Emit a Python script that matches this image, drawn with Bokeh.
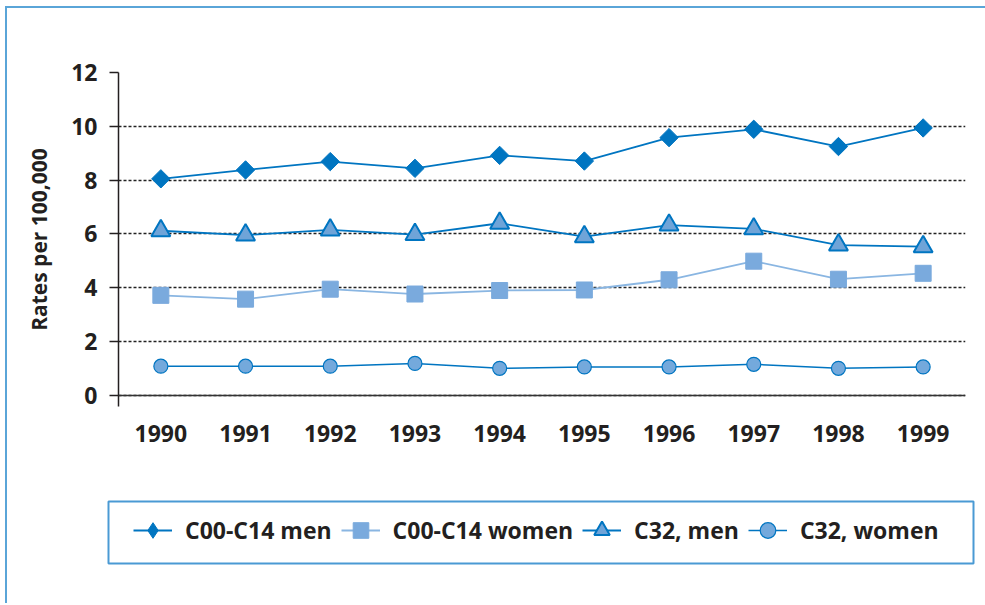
from bokeh.plotting import figure
from bokeh.layouts import column
from bokeh.models import Range1d, FixedTicker, Span, Legend, LegendItem, BoxAnnotation
from bokeh.embed import file_html
from bokeh.resources import INLINE
import math

years = [1990, 1991, 1992, 1993, 1994, 1995, 1996, 1997, 1998, 1999]
c00_men = [8.05, 8.38, 8.69, 8.44, 8.92, 8.71, 9.58, 9.89, 9.25, 9.94]
c00_women = [3.72, 3.58, 3.95, 3.77, 3.90, 3.92, 4.30, 4.99, 4.32, 4.54]
c32_men = [6.12, 5.96, 6.15, 5.98, 6.40, 5.90, 6.33, 6.19, 5.59, 5.53]
c32_women = [1.09, 1.09, 1.09, 1.19, 1.01, 1.06, 1.06, 1.16, 1.01, 1.06]
y_ticks = [0, 2, 4, 6, 8, 10, 12]
labels = ["C00-C14 men", "C00-C14 women", "C32, men", "C32, women"]

DARK = "#0075c1"
LIGHT = "#7aaadd"
LIGHT_LINE = "#8ab6e2"
FILL = "#6fa4d8"
CFILL = "#74a9dc"
TXT = "#231f20"
FRAME = "#5aa5d8"
FONT = "Open Sans"

p = figure(width=978, height=462, output_backend="svg", toolbar_location=None,
           x_range=Range1d(1989.5, 1999.5), y_range=Range1d(-0.4087, 12),
           min_border_left=111, min_border_right=20, min_border_top=64,
           min_border_bottom=64)
p.frame_align = False
p.outline_line_color = None
p.background_fill_color = "white"
p.border_fill_alpha = 0

# axes
p.xaxis.ticker = FixedTicker(ticks=years)
p.xaxis.axis_line_color = None
p.xaxis.major_tick_line_color = None
p.xaxis.minor_tick_line_color = None
p.xaxis.major_label_standoff = 12
p.xaxis.major_label_text_font = FONT
p.xaxis.major_label_text_font_style = "bold"
p.xaxis.major_label_text_font_size = "23px"
p.xaxis.major_label_text_color = TXT

p.yaxis.ticker = FixedTicker(ticks=y_ticks)
p.yaxis.axis_line_color = TXT
p.yaxis.axis_line_width = 1.5
p.yaxis.major_tick_out = 9
p.yaxis.major_tick_in = 0
p.yaxis.major_tick_line_color = TXT
p.yaxis.major_tick_line_width = 1.5
p.yaxis.minor_tick_line_color = None
p.yaxis.major_label_standoff = 12
p.yaxis.major_label_text_font = FONT
p.yaxis.major_label_text_font_style = "bold"
p.yaxis.major_label_text_font_size = "23px"
p.yaxis.major_label_text_color = TXT
p.yaxis.axis_label = "Rates per 100,000"
p.yaxis.axis_label_text_font = FONT
p.yaxis.axis_label_text_font_style = "bold"
p.yaxis.axis_label_text_font_size = "21px"
p.yaxis.axis_label_text_color = TXT
p.yaxis.axis_label_standoff = 15

p.xgrid.grid_line_color = None
p.ygrid.ticker = FixedTicker(ticks=y_ticks)
p.ygrid.grid_line_color = "#222222"
p.ygrid.grid_line_dash = "3 2"
p.ygrid.grid_line_width = 1.3

p.add_layout(Span(location=0, dimension="width", line_color="#333333", line_width=1.5))

# series
p.line(years, c00_men, line_color=DARK, line_width=1.8)
p.scatter(years, c00_men, marker="square", angle=math.pi / 4, size=13,
          fill_color=DARK, line_color=DARK, line_width=1)
p.line(years, c00_women, line_color=LIGHT_LINE, line_width=1.8)
p.scatter(years, c00_women, marker="square", size=16,
          fill_color=LIGHT, line_color=LIGHT, line_width=1)
p.line(years, c32_men, line_color=DARK, line_width=1.8)
p.scatter(years, c32_men, marker="triangle", size=19,
          fill_color=FILL, line_color=DARK, line_width=2)
p.line(years, c32_women, line_color=DARK, line_width=1.5)
p.scatter(years, c32_women, marker="circle", size=14,
          fill_color=CFILL, line_color=DARK, line_width=1.2)

# legend strip below main chart (its frame covers the whole strip: 1 unit = 1 px)
q = figure(width=978, height=133, output_backend="svg", toolbar_location=None,
           x_range=Range1d(7, 985), y_range=Range1d(0, 133),
           x_axis_type=None, y_axis_type=None, min_border=0)
q.frame_align = False
q.outline_line_color = None
q.grid.visible = False
q.background_fill_alpha = 0
q.border_fill_alpha = 0

q.add_layout(BoxAnnotation(left=108, right=973, bottom=40, top=102,
                           fill_color="white", fill_alpha=1,
                           line_color="#4a9ad4", line_alpha=1, line_width=2))

# legend proxies: kept outside the visible range, shown only in the legend
hx = [-500, -400]
hy = [-500, -500]
r1 = q.line(x=hx, y=hy, line_color=DARK, line_width=1.8)
s1 = q.scatter(x=hx, y=hy, marker="diamond",
               fill_color=DARK, line_color=DARK, line_width=1)
r2 = q.line(x=hx, y=hy, line_color=LIGHT_LINE, line_width=1.8)
s2 = q.scatter(x=hx, y=hy, marker="square", fill_color=LIGHT, line_color=LIGHT, line_width=1)
r3 = q.line(x=hx, y=hy, line_color=DARK, line_width=1.8)
s3 = q.scatter(x=hx, y=hy, marker="triangle", fill_color=FILL, line_color=DARK, line_width=2)
r4 = q.line(x=hx, y=hy, line_color=DARK, line_width=1.5)
s4 = q.scatter(x=hx, y=hy, marker="circle", fill_color=CFILL, line_color=DARK, line_width=1.2)

legend = Legend(items=[
    LegendItem(label=labels[0], renderers=[r1, s1]),
    LegendItem(label=labels[1], renderers=[r2, s2]),
    LegendItem(label=labels[2], renderers=[r3, s3]),
    LegendItem(label=labels[3], renderers=[r4, s4]),
], orientation="horizontal", location=(126, 53))
legend.margin = 0
legend.padding = 11
legend.glyph_width = 39
legend.glyph_height = 40
legend.label_height = 40
legend.label_standoff = 13
legend.spacing = 9
legend.label_text_font = FONT
legend.label_text_font_style = "bold"
legend.label_text_font_size = "23px"
legend.label_text_color = TXT
legend.border_line_color = None
legend.background_fill_alpha = 0
q.add_layout(legend, "center")

layout = column(p, q, spacing=0)
layout.styles = {"border-left": "2px solid " + FRAME, "border-top": "2px solid " + FRAME,
                 "margin-left": "5px", "margin-top": "6px"}
open("out.html", "w").write(file_html(layout, INLINE))
